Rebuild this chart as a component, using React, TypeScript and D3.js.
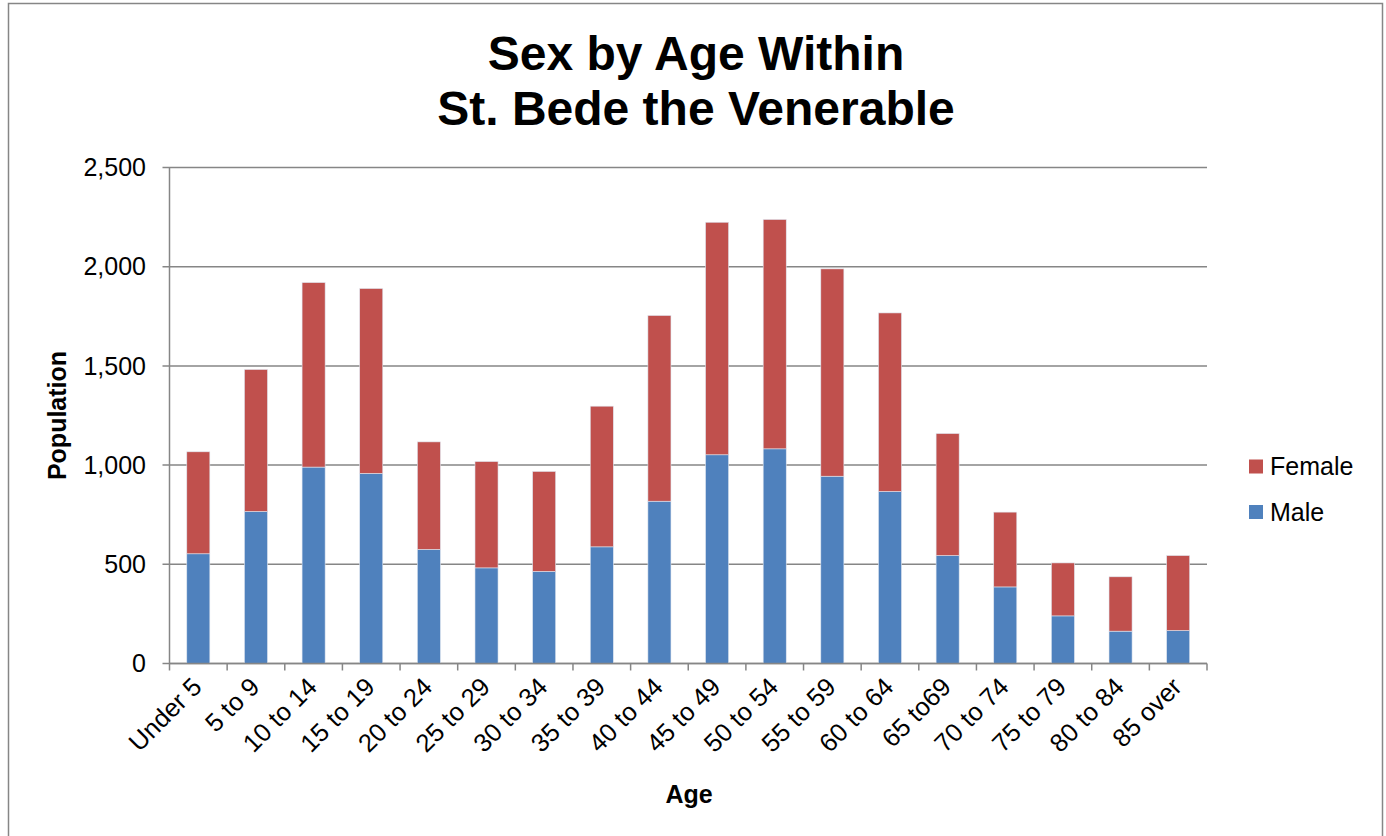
import React, { useEffect, useRef } from 'react';
import * as d3 from 'd3';

const ageGroups = [
  'Under 5', '5 to 9', '10 to 14', '15 to 19', '20 to 24', '25 to 29',
  '30 to 34', '35 to 39', '40 to 44', '45 to 49', '50 to 54', '55 to 59',
  '60 to 64', '65 to69', '70 to 74', '75 to 79', '80 to 84', '85 over',
];
const male = [553, 766, 990, 958, 575, 482, 464, 588, 818, 1052, 1082, 944, 867, 544, 386, 240, 163, 166];
const female = [514, 716, 930, 932, 542, 536, 504, 709, 936, 1172, 1156, 1045, 900, 615, 377, 267, 274, 378];
const yTicks = [0, 500, 1000, 1500, 2000, 2500];

const seriesNames = ['Male', 'Female'];
const seriesColors = ['#4F81BD', '#C0504D'];

const W = 1386, H = 836;
const plot = { left: 169.5, right: 1207, top: 167.5, bottom: 663.5 };
const font = "'Liberation Sans', Arial, sans-serif";
const gridColor = '#868686';

const App = () => {
  const ref = useRef<SVGSVGElement>(null);

  useEffect(() => {
    const svg = d3.select(ref.current);
    svg.selectAll('*').remove();

    // outer chart frame
    svg.append('rect')
      .attr('x', 8.5).attr('y', 3.5)
      .attr('width', 1374).attr('height', 850)
      .attr('fill', '#fff').attr('stroke', gridColor).attr('stroke-width', 1.5);

    const x = d3.scaleBand().domain(ageGroups).range([plot.left, plot.right])
      .paddingInner(0.6).paddingOuter(0.3);
    const y = d3.scaleLinear().domain([0, 2500]).range([plot.bottom, plot.top]);
    const step = x.step();

    // gridlines + y ticks
    const g = svg.append('g');
    yTicks.forEach(t => {
      g.append('line')
        .attr('x1', plot.left - 7).attr('x2', plot.right)
        .attr('y1', y(t)).attr('y2', y(t))
        .attr('stroke', gridColor).attr('stroke-width', 1.5);
      g.append('text')
        .attr('x', 146).attr('y', y(t)).attr('dy', '0.35em')
        .attr('text-anchor', 'end')
        .style('font-family', font).style('font-size', '25px').style('fill', '#000')
        .text(d3.format(',')(t));
    });

    // stacked bars
    const rows = ageGroups.map((a, i) => ({ age: a, Male: male[i], Female: female[i] }));
    const stack = d3.stack<any>().keys(seriesNames)(rows);
    stack.forEach((layer, li) => {
      svg.append('g').selectAll('rect')
        .data(layer)
        .enter()
        .append('rect')
        .attr('x', d => x(d.data.age)!)
        .attr('width', x.bandwidth())
        .attr('y', d => y(d[1]))
        .attr('height', d => y(d[0]) - y(d[1]))
        .attr('fill', seriesColors[li])
        .attr('stroke', '#dfe6f0').attr('stroke-width', 0.6);
    });

    // axes lines
    svg.append('line')
      .attr('x1', plot.left).attr('x2', plot.left)
      .attr('y1', plot.top).attr('y2', plot.bottom)
      .attr('stroke', gridColor).attr('stroke-width', 1.5);
    svg.append('line')
      .attr('x1', plot.left).attr('x2', plot.right)
      .attr('y1', plot.bottom).attr('y2', plot.bottom)
      .attr('stroke', gridColor).attr('stroke-width', 1.5);

    // x tick marks at category boundaries
    const bounds = ageGroups.map(a => x(a)! - step * 0.3).concat([plot.right]);
    bounds.forEach(b => {
      svg.append('line')
        .attr('x1', b).attr('x2', b)
        .attr('y1', plot.bottom).attr('y2', plot.bottom + 7)
        .attr('stroke', gridColor).attr('stroke-width', 1.5);
    });

    // category labels
    ageGroups.forEach(a => {
      const cx = x(a)! + x.bandwidth() / 2;
      svg.append('text')
        .attr('transform', `translate(${cx + 5},${plot.bottom + 25}) rotate(-45)`)
        .attr('text-anchor', 'end')
        .style('font-family', font).style('font-size', '25.5px').style('fill', '#000')
        .text(a);
    });

    // title
    const title = svg.append('text')
      .attr('text-anchor', 'middle')
      .style('font-family', font).style('font-size', '48px').style('font-weight', 'bold');
    title.append('tspan').attr('x', 696).attr('y', 70).text('Sex by Age Within');
    title.append('tspan').attr('x', 696).attr('y', 125).text('St. Bede the Venerable');

    // axis titles
    svg.append('text')
      .attr('transform', `translate(66,${(plot.top + plot.bottom) / 2})rotate(-90)`)
      .attr('text-anchor', 'middle')
      .style('font-family', font).style('font-size', '25px').style('font-weight', 'bold')
      .text('Population');
    svg.append('text')
      .attr('x', 689).attr('y', 803)
      .attr('text-anchor', 'middle')
      .style('font-family', font).style('font-size', '25px').style('font-weight', 'bold')
      .text('Age');

    // legend (Female on top)
    const legendItems = [
      { name: 'Female', color: seriesColors[1], y: 466.5 },
      { name: 'Male', color: seriesColors[0], y: 512 },
    ];
    legendItems.forEach(item => {
      svg.append('rect')
        .attr('x', 1249).attr('y', item.y - 7)
        .attr('width', 14).attr('height', 14)
        .attr('fill', item.color);
      svg.append('text')
        .attr('x', 1270).attr('y', item.y).attr('dy', '0.35em')
        .style('font-family', font).style('font-size', '25px')
        .text(item.name);
    });
  }, []);

  return (
    <svg ref={ref} width={W} height={H}
      style={{ position: 'absolute', left: 0, top: 0, display: 'block', background: '#fff' }} />
  );
};

export default App;
